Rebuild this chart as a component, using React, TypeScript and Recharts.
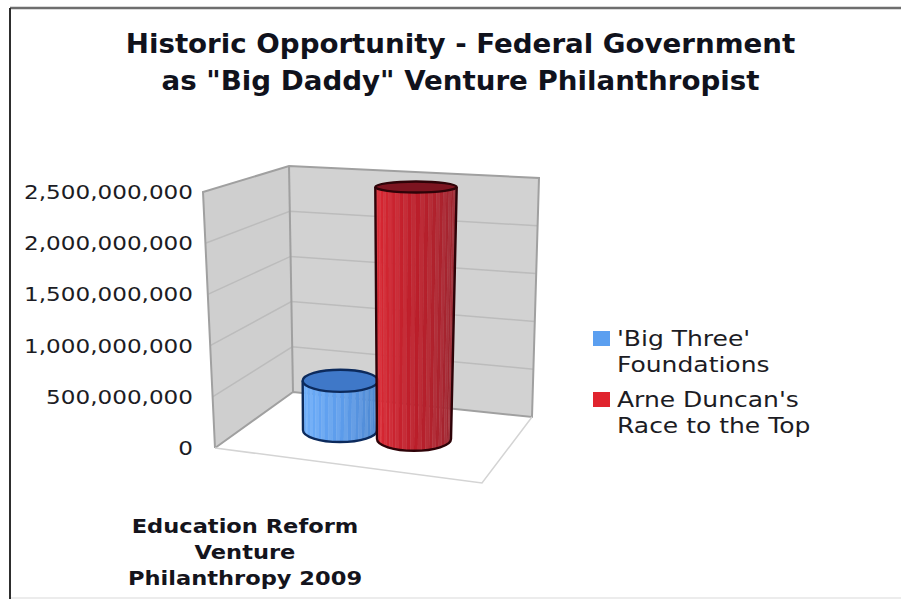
import React from "react";
import { BarChart, Bar, XAxis, YAxis, Legend, Customized } from "recharts";

const FONT = "'DejaVu Sans', Verdana, sans-serif";

// Values and labels
const categoryLabel = ["Education Reform", "Venture", "Philanthropy 2009"];
const bigThreeValues = [500000000];
const raceToTopValues = [2500000000];
const yTicks = [0, 500000000, 1000000000, 1500000000, 2000000000, 2500000000];
const titleLines = ["Historic Opportunity - Federal Government", 'as "Big Daddy" Venture Philanthropist'];
const seriesNames = ["'Big Three' Foundations", "Arne Duncan's Race to the Top"];
const chartData = [
  { name: categoryLabel.join(" "), bigThree: bigThreeValues[0], raceToTop: raceToTopValues[0] },
];

const Y_MAX = 2500000000;
const PLOT_TOP = 192;
const PLOT_BOTTOM = 448;
const PLOT_LEFT = 215;
const PLOT_RIGHT = 539;

const lerp = (a: number, b: number, t: number) => a + (b - a) * t;

// Corner points of the box, as [value 0 position, value max position]
const frontLeft = { x: [215, 203], y: [448, 192] };
const backLeft = { x: [293, 289], y: [392, 166] };
const backRight = { x: [532, 539], y: [417, 178] };
const floorFront = { x: 482, y: 483 };

const at = (edge: { x: number[]; y: number[] }, v: number) =>
  `${lerp(edge.x[0], edge.x[1], v)},${lerp(edge.y[0], edge.y[1], v)}`;

function Box() {
  return (
    <g>
      <polygon points={`${at(frontLeft, 0)} ${at(backLeft, 0)} ${at(backRight, 0)} ${floorFront.x},${floorFront.y}`} fill="#ffffff" />
      <polygon points={`${at(frontLeft, 0)} ${at(frontLeft, 1)} ${at(backLeft, 1)} ${at(backLeft, 0)}`} fill="#cfcfcf" />
      <polygon points={`${at(backLeft, 0)} ${at(backLeft, 1)} ${at(backRight, 1)} ${at(backRight, 0)}`} fill="#d2d2d2" />
      {yTicks.slice(1, -1).map((t) => {
        const v = t / Y_MAX;
        return (
          <polyline
            key={t}
            points={`${at(frontLeft, v)} ${at(backLeft, v)} ${at(backRight, v)}`}
            fill="none"
            stroke="#bcbcbc"
            strokeWidth={1.5}
          />
        );
      })}
      <polyline
        points={`${at(frontLeft, 0)} ${at(frontLeft, 1)} ${at(backLeft, 1)} ${at(backRight, 1)} ${at(backRight, 0)} ${at(backLeft, 0)} ${at(frontLeft, 0)}`}
        fill="none"
        stroke="#a0a0a0"
        strokeWidth={2}
      />
      <line x1={backLeft.x[0]} y1={backLeft.y[0]} x2={backLeft.x[1]} y2={backLeft.y[1]} stroke="#a0a0a0" strokeWidth={2} />
      <polyline
        points={`${at(frontLeft, 0)} ${floorFront.x},${floorFront.y} ${at(backRight, 0)}`}
        fill="none"
        stroke="#d4d4d4"
        strokeWidth={1.5}
      />
    </g>
  );
}

function Frame() {
  return (
    <g>
      <line x1={10} y1={8} x2={901} y2={8} stroke="#6e6e6e" strokeWidth={2.5} />
      <line x1={10} y1={8} x2={10} y2={599} stroke="#2e2e2e" strokeWidth={2} />
      <line x1={11} y1={598} x2={901} y2={598} stroke="#e6e6e6" strokeWidth={1.5} />
    </g>
  );
}

function Title() {
  return (
    <g fill="#10121c" fontFamily={FONT} fontWeight={700} fontSize={26}>
      {titleLines.map((line, i) => (
        <text key={line} textAnchor="middle" transform={`translate(460.5,${53 + i * 37}) scale(1.065,1)`}>
          {line}
        </text>
      ))}
    </g>
  );
}

function ValueTick({ x, y, payload }: any) {
  return (
    <text
      textAnchor="end"
      transform={`translate(${x},${y + 7}) scale(1.155,1)`}
      fontFamily={FONT}
      fontSize={20}
      fill="#1c1c24"
    >
      {Number(payload.value).toLocaleString("en-US")}
    </text>
  );
}

function CategoryTick({ x }: any) {
  return (
    <g fontFamily={FONT} fontWeight={700} fontSize={19} fill="#14141c">
      {categoryLabel.map((line, i) => (
        <text key={line} textAnchor="middle" transform={`translate(${x - 132},${533 + i * 26}) scale(1.187,1)`}>
          {line}
        </text>
      ))}
    </g>
  );
}

function mix(a: number[], b: number[], t: number) {
  return `rgb(${a.map((c, i) => Math.round(lerp(c, b[i], t))).join(",")})`;
}

type Tone = { left: number[]; mid: number[]; right: number[]; top: string; line: string; stripe: number };
const blueTone: Tone = { left: [112, 178, 255], mid: [92, 156, 235], right: [72, 128, 200], top: "#3f78c8", line: "#0c2a5c", stripe: 0.09 };
const redTone: Tone = { left: [226, 44, 54], mid: [188, 30, 42], right: [152, 42, 52], top: "#7c1420", line: "#2e0308", stripe: 0.06 };

// Front half of a cylinder, built from narrow facets, standing on the floor of the box
function makeCylinder(tone: Tone) {
  return function Cylinder({ x, width, height }: any) {
    const cx = x + width / 2;
    const v = height / (PLOT_BOTTOM - PLOT_TOP);
    const u = (cx - 254) / 253;
    const baseY = 420 + 30 * u;
    const crownY = 179 + 12.6 * u;
    const topY = lerp(baseY, crownY, v);
    const rxB = width / 2;
    const rxT = rxB * (1 + 0.1 * v);
    const cxT = cx + 2 * v;
    const ryB = 11.8;
    const ryT = lerp(12.5, 5.5, v);
    const N = 30;
    const facets = [];
    for (let i = 0; i < N; i++) {
      const a0 = Math.PI - (Math.PI * i) / N;
      const a1 = Math.PI - (Math.PI * (i + 1)) / N;
      const pts = [
        [cxT + rxT * Math.cos(a0), topY + ryT * Math.sin(a0)],
        [cxT + rxT * Math.cos(a1), topY + ryT * Math.sin(a1)],
        [cx + rxB * Math.cos(a1), baseY + ryB * Math.sin(a1)],
        [cx + rxB * Math.cos(a0), baseY + ryB * Math.sin(a0)],
      ];
      const t = i / (N - 1);
      const base = t < 0.5 ? mix(tone.left, tone.mid, t * 2) : mix(tone.mid, tone.right, (t - 0.5) * 2);
      facets.push(
        <polygon key={i} points={pts.map((p) => p.join(",")).join(" ")} fill={base} stroke={base} strokeWidth={0.4} />
      );
      if (i % 2 === 0) {
        facets.push(
          <polygon key={`s${i}`} points={pts.map((p) => p.join(",")).join(" ")} fill="#ffffff" opacity={tone.stripe} />
        );
      }
    }
    const outline =
      `M${cxT - rxT},${topY} L${cx - rxB},${baseY} ` +
      `A${rxB},${ryB} 0 0 0 ${cx + rxB},${baseY} L${cxT + rxT},${topY}`;
    return (
      <g>
        {facets}
        <path d={outline} fill="none" stroke={tone.line} strokeWidth={2.4} />
        <ellipse cx={cxT} cy={topY} rx={rxT} ry={ryT} fill={tone.top} stroke={tone.line} strokeWidth={2.4} />
      </g>
    );
  };
}

const BlueCylinder = makeCylinder(blueTone);
const RedCylinder = makeCylinder(redTone);

function LegendBlock({ payload }: any) {
  return (
    <div style={{ fontFamily: FONT, fontSize: 21, lineHeight: "26px", color: "#1c1c24", paddingLeft: 54 }}>
      {(payload || []).map((entry: any) => (
        <div key={entry.value} style={{ position: "relative", height: 61 }}>
          <div style={{ position: "absolute", left: 0, top: 1, width: 17, height: 15, background: entry.color }} />
          <div
            style={{
              position: "absolute",
              left: 24,
              top: -4,
              width: 178,
              transform: "scaleX(1.19)",
              transformOrigin: "left top",
            }}
          >
            {entry.value}
          </div>
        </div>
      ))}
    </div>
  );
}

export default function App() {
  return (
    <div style={{ position: "absolute", left: 0, top: 0, width: 901, height: 599, background: "#ffffff" }}>
      <BarChart
        width={901}
        height={599}
        data={chartData}
        margin={{ top: PLOT_TOP, left: 0, right: 62, bottom: 0 }}
        barGap={0}
        barSize={74}
      >
        <Customized component={Frame} />
        <Customized component={Title} />
        <Customized component={Box} />
        <XAxis dataKey="name" axisLine={false} tickLine={false} height={599 - PLOT_BOTTOM} tick={<CategoryTick />} interval={0} />
        <YAxis
          type="number"
          domain={[0, Y_MAX]}
          ticks={yTicks}
          width={PLOT_LEFT}
          axisLine={false}
          tickLine={false}
          tickMargin={16}
          tick={<ValueTick />}
        />
        <Bar dataKey="bigThree" name={seriesNames[0]} fill="#5b9ff0" isAnimationActive={false} shape={<BlueCylinder />} />
        <Bar dataKey="raceToTop" name={seriesNames[1]} fill="#e0242e" isAnimationActive={false} shape={<RedCylinder />} />
        <Legend
          layout="vertical"
          align="right"
          verticalAlign="top"
          width={901 - PLOT_RIGHT - 62}
          wrapperStyle={{ top: 330 }}
          content={<LegendBlock />}
        />
      </BarChart>
    </div>
  );
}
